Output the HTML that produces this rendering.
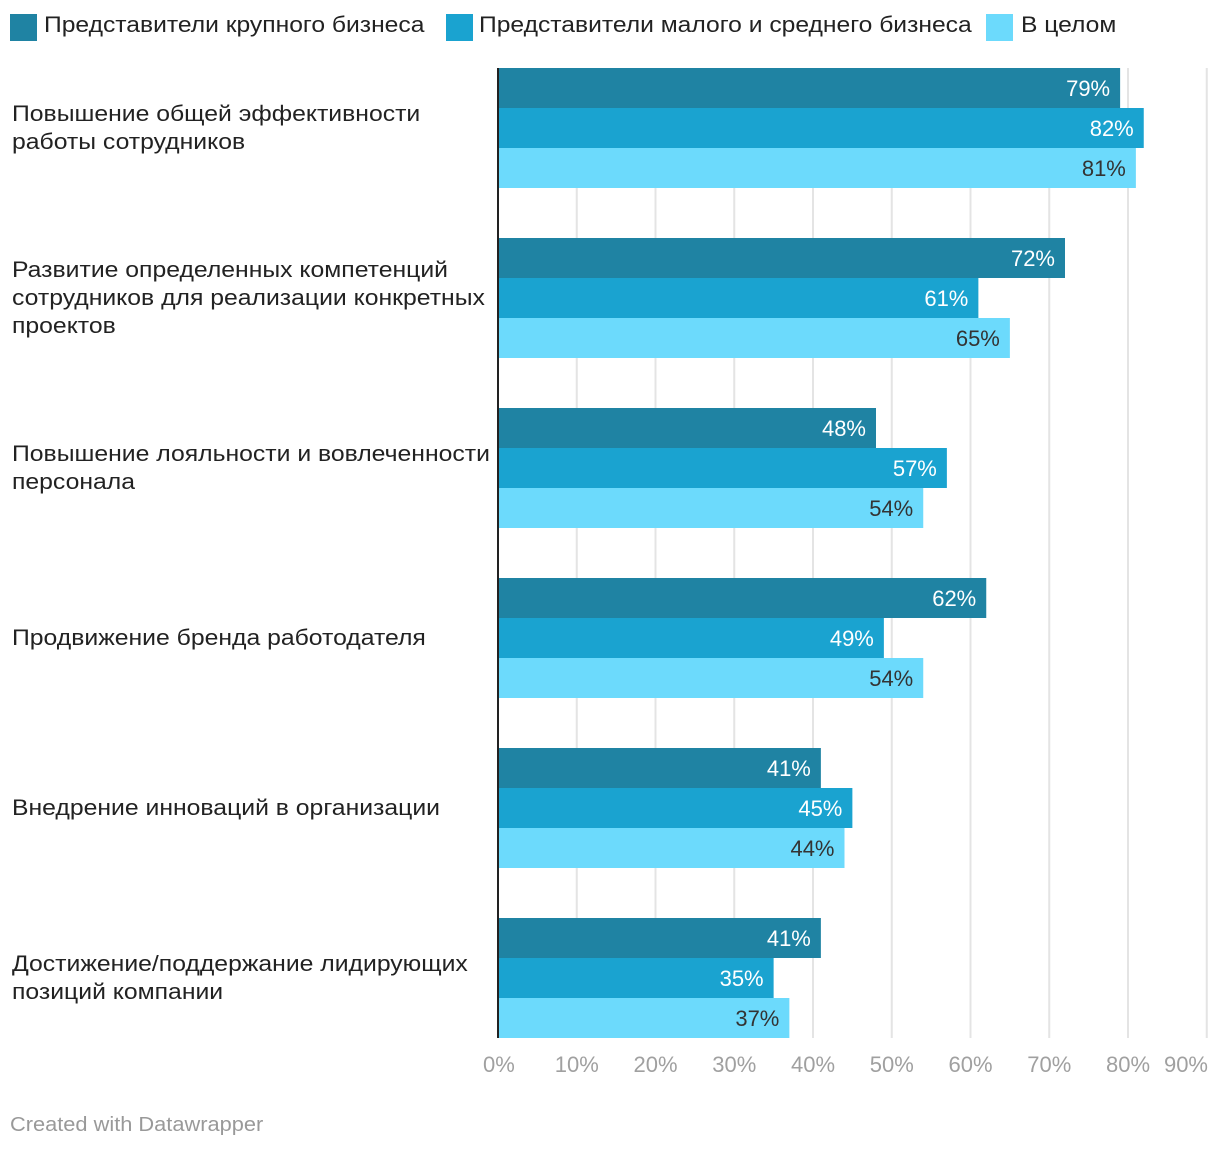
<!DOCTYPE html>
<html><head><meta charset="utf-8"><style>
body{margin:0;background:#fff;font-family:"Liberation Sans",sans-serif;}
#wrap{position:relative;width:1220px;height:1152px;overflow:hidden;}
.leg{position:absolute;top:12px;font-size:22px;color:#222;white-space:nowrap;transform:scaleX(1.12);transform-origin:0 0;}
.sw{position:absolute;top:14px;width:27px;height:27px;}
.lab{position:absolute;left:12px;font-size:22px;line-height:28px;color:#222;white-space:nowrap;transform:scaleX(1.125);transform-origin:0 0;}
.credit{position:absolute;left:10px;top:1114px;font-size:20px;color:#999;transform:scaleX(1.09);transform-origin:0 0;}
</style></head><body>
<div id="wrap">
<div class="sw" style="left:10px;background:#1f83a3"></div>
<div class="leg" style="left:44px">Представители крупного бизнеса</div>
<div class="sw" style="left:446px;background:#1aa3d0"></div>
<div class="leg" style="left:479px">Представители малого и среднего бизнеса</div>
<div class="sw" style="left:986px;background:#6cdafc"></div>
<div class="leg" style="left:1021px">В целом</div>
<svg id="svg" width="1220" height="1152" style="position:absolute;left:0;top:0"></svg>
<div id="labels"></div>
<div class="credit">Created with Datawrapper</div>
</div>
<script>
const categories=["Повышение общей эффективности<br>работы сотрудников","Развитие определенных компетенций<br>сотрудников для реализации конкретных<br>проектов","Повышение лояльности и вовлеченности<br>персонала","Продвижение бренда работодателя","Внедрение инноваций в организации","Достижение/поддержание лидирующих<br>позиций компании"];
const largeBiz=[79,72,48,62,41,41];
const smeBiz=[82,61,57,49,45,35];
const total=[81,65,54,54,44,37];
const ticks=[0,10,20,30,40,50,60,70,80,90];
const NS="http://www.w3.org/2000/svg";
const svg=document.getElementById('svg');
const x=v=>498+v*7.875;
const gy=i=>68+i*170;
function mk(t,a){const e=document.createElementNS(NS,t);for(const k in a)e.setAttribute(k,a[k]);svg.appendChild(e);return e;}
ticks.forEach((t,i)=>{
 if(t>0){const g=mk('line',{x1:x(t),x2:x(t),y1:68,y2:1038,stroke:'#e4e4e4','stroke-width':2});
 
 }
 const tx=mk('text',{x:t===90?1208:(t===0?483:x(t)),y:1072,'font-size':22,fill:'#a0a0a0','text-anchor':t===90?'end':(t===0?'start':'middle')});
 tx.textContent=t+'%';
 
 
});
const series=[[largeBiz,'#1f83a3','#fff','large'],[smeBiz,'#1aa3d0','#fff','sme'],[total,'#6cdafc','#333','total']];
const lab=document.getElementById('labels');
categories.forEach((c,i)=>{
 series.forEach((s,j)=>{
  const y0=gy(i)+j*40, v=s[0][i];
  const r=mk('rect',{x:498,y:y0,width:x(v)-498,height:40,fill:s[1]});
  
  
  const t=mk('text',{x:x(v)-10,y:y0+28,'font-size':22,fill:s[2],'text-anchor':'end'});
  t.textContent=v+'%';
  
  
 });
 const d=document.createElement('div');
 d.className='lab';
 d.innerHTML=c;
 const lines=c.split('<br>').length;
 d.style.top=(gy(i)+60-lines*14)+'px';
 
 
 lab.appendChild(d);
});
const ax=mk('line',{x1:498,x2:498,y1:68,y2:1038,stroke:'#222','stroke-width':2});


</script>
</body></html>
